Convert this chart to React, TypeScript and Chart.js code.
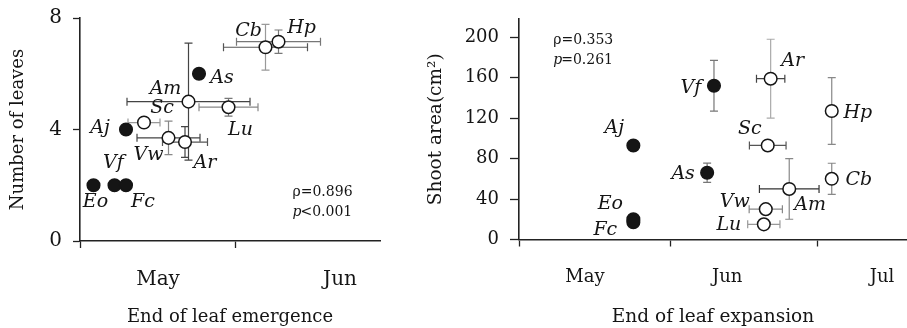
import React, { useEffect, useRef } from 'react';
import { Chart, registerables } from 'chart.js';

Chart.register(...registerables);

// ---------------- shared ----------------
const monthNames = ['May', 'Jun', 'Jul'];
const monthStartDays = [121, 152, 182]; // day of year: May 1, Jun 1, Jul 1

// ---------------- left panel: end of leaf emergence vs number of leaves ----------------
const leftSpecies = ['Eo', 'Vf', 'Fc', 'Aj', 'Sc', 'Vw', 'Ar', 'Am', 'As', 'Lu', 'Cb', 'Hp'];
const leftEmergenceDay = [123.7, 127.9, 130.2, 130.2, 133.8, 138.7, 142.0, 142.7, 144.8, 150.7, 158.1, 160.7];
const leftLeafCount = [2, 2, 2, 4, 4.25, 3.7, 3.55, 5, 6, 4.8, 6.95, 7.15];
const leftDayError = [0, 0, 0, 0, 3.2, 6.3, 4.5, 12.3, 0, 5.9, 8.4, 8.4];
const leftLeafError = [0, 0, 0, 0, 0, 0.6, 0.55, 2.1, 0, 0.32, 0.82, 0.42];
const leftFilled = [true, true, true, true, false, false, false, false, true, false, false, false];
const leftYTicks = [0, 4, 8];
const leftMonthLabelDays = [136.6, 173];
const leftRho = 'ρ=0.896';
const leftP = '<0.001';

// ---------------- right panel: end of leaf expansion vs shoot area ----------------
const rightSpecies = ['Aj', 'Eo', 'Fc', 'Vf', 'As', 'Ar', 'Hp', 'Sc', 'Cb', 'Am', 'Vw', 'Lu'];
const rightExpansionDay = [144.4, 144.4, 144.4, 160.9, 159.5, 172.5, 185.0, 171.9, 185.0, 176.3, 171.5, 171.1];
const rightShootArea = [93, 20, 17, 152, 66, 159, 127, 93, 60, 50, 30, 15];
const rightDayError = [0, 0, 0, 0, 0, 2.9, 0, 3.75, 0, 6.1, 3.4, 3.3];
const rightAreaError = [0, 0, 0, 25, 9.5, 39, 33, 0, 15.4, 30, 0, 0];
const rightFilled = [true, true, true, true, true, false, false, false, false, false, false, false];
const rightYTicks = [0, 40, 80, 120, 160, 200];
const rightMonthLabelDays = [134.5, 163.6, 195.3];
const rightRho = 'ρ=0.353';
const rightP = '=0.261';

// ---------------- styles / layout ----------------
const SERIF = "'DejaVu Serif', serif";
const INK = '#151515';

const leftLabelDx = [2, -1, 17, -26, 18, -20, 20, -23, 23, 12, -17, 23];
const leftLabelDy = [16, -23, 16, -2, -15, 16, 20, -14, 3, 22, -17, -15];
const leftXErrColor = ['', '', '', '', '#999', '#444', '#555', '#444', '', '#888', '#555', '#777'];
const leftYErrColor = ['', '', '', '', '', '#888', '#444', '#444', '', '#777', '#999', '#777'];

const rightLabelDx = [-19, -23, -28, -23, -24, 22, 26, -18, 27, 21, -31, -35];
const rightLabelDy = [-18, -16, 7, 1, 0, -19, 1, -17, 0, 15, -8, 0];
const rightXErrColor = ['', '', '', '', '', '#444', '', '#555', '', '#333', '#888', '#999'];
const rightYErrColor = ['', '', '', '#777', '#777', '#aaa', '#888', '', '#888', '#888', '', ''];

type Panel = {
  id: string;
  species: string[];
  xs: number[];
  ys: number[];
  xErr: number[];
  yErr: number[];
  filled: boolean[];
  xErrColor: string[];
  yErrColor: string[];
  labelDx: number[];
  labelDy: number[];
  xMin: number;
  xMax: number;
  yMax: number;
  yTicks: number[];
  monthLabelDays: number[];
  xTitle: string;
  yTitle: string;
  rho: string;
  pText: string;
  statX: number;
  statY1: number;
  statY2: number;
  padTop: number;
  padRight: number;
  yAxisWidth: number;
  xAxisHeight: number;
  tickFont: number;
  titleFont: number;
  yTitlePad: number;
  yTickLen: number;
  xTickPad: number;
};

const leftPanel: Panel = {
  id: 'left',
  species: leftSpecies,
  xs: leftEmergenceDay,
  ys: leftLeafCount,
  xErr: leftDayError,
  yErr: leftLeafError,
  filled: leftFilled,
  xErrColor: leftXErrColor,
  yErrColor: leftYErrColor,
  labelDx: leftLabelDx,
  labelDy: leftLabelDy,
  xMin: 121,
  xMax: 181,
  yMax: 8,
  yTicks: leftYTicks,
  monthLabelDays: leftMonthLabelDays,
  xTitle: 'End of leaf emergence',
  yTitle: 'Number of leaves',
  rho: leftRho,
  pText: leftP,
  statX: 163.5,
  statY1: 1.73,
  statY2: 1.04,
  padTop: 18,
  padRight: 20,
  yAxisWidth: 80,
  xAxisHeight: 87,
  tickFont: 20,
  titleFont: 18,
  yTitlePad: 8,
  yTickLen: 7,
  xTickPad: 20,
};

const rightPanel: Panel = {
  id: 'right',
  species: rightSpecies,
  xs: rightExpansionDay,
  ys: rightShootArea,
  xErr: rightDayError,
  yErr: rightAreaError,
  filled: rightFilled,
  xErrColor: rightXErrColor,
  yErrColor: rightYErrColor,
  labelDx: rightLabelDx,
  labelDy: rightLabelDy,
  xMin: 121,
  xMax: 200.4,
  yMax: 218,
  yTicks: rightYTicks,
  monthLabelDays: rightMonthLabelDays,
  xTitle: 'End of leaf expansion',
  yTitle: 'Shoot area(cm²)',
  rho: rightRho,
  pText: rightP,
  statX: 128,
  statY1: 197.3,
  statY2: 177.2,
  padTop: 19,
  padRight: 0,
  yAxisWidth: 109,
  xAxisHeight: 88.5,
  tickFont: 18,
  titleFont: 18.5,
  yTitlePad: 15.5,
  yTickLen: 9,
  xTickPad: 20,
};

function makeOverlay(p: Panel) {
  const cap = 4;
  return {
    id: 'overlay-' + p.id,
    beforeDatasetsDraw(chart: any) {
      const { ctx } = chart;
      const xs = chart.scales.x;
      const ys = chart.scales.y;
      ctx.save();
      ctx.lineWidth = 1.2;
      for (let i = 0; i < p.species.length; i++) {
        const px = xs.getPixelForValue(p.xs[i]);
        const py = ys.getPixelForValue(p.ys[i]);
        if (p.xErr[i] > 0) {
          const x0 = xs.getPixelForValue(p.xs[i] - p.xErr[i]);
          const x1 = xs.getPixelForValue(p.xs[i] + p.xErr[i]);
          ctx.strokeStyle = p.xErrColor[i] || '#666';
          ctx.beginPath();
          ctx.moveTo(x0, py);
          ctx.lineTo(x1, py);
          ctx.moveTo(x0, py - cap);
          ctx.lineTo(x0, py + cap);
          ctx.moveTo(x1, py - cap);
          ctx.lineTo(x1, py + cap);
          ctx.stroke();
        }
        if (p.yErr[i] > 0) {
          const y0 = ys.getPixelForValue(p.ys[i] - p.yErr[i]);
          const y1 = ys.getPixelForValue(p.ys[i] + p.yErr[i]);
          ctx.strokeStyle = p.yErrColor[i] || '#666';
          ctx.beginPath();
          ctx.moveTo(px, y0);
          ctx.lineTo(px, y1);
          ctx.moveTo(px - cap, y0);
          ctx.lineTo(px + cap, y0);
          ctx.moveTo(px - cap, y1);
          ctx.lineTo(px + cap, y1);
          ctx.stroke();
        }
      }
      ctx.restore();
    },
    afterDatasetsDraw(chart: any) {
      const { ctx } = chart;
      const xs = chart.scales.x;
      const ys = chart.scales.y;
      ctx.save();
      ctx.fillStyle = INK;
      ctx.textAlign = 'center';
      ctx.textBaseline = 'middle';
      ctx.font = `italic 19px ${SERIF}`;
      for (let i = 0; i < p.species.length; i++) {
        const px = xs.getPixelForValue(p.xs[i]);
        const py = ys.getPixelForValue(p.ys[i]);
        ctx.fillText(p.species[i], px + p.labelDx[i], py + p.labelDy[i] + 1);
      }
      // statistics
      ctx.textAlign = 'left';
      const sx = xs.getPixelForValue(p.statX);
      ctx.font = `14px ${SERIF}`;
      ctx.fillText(p.rho, sx, ys.getPixelForValue(p.statY1));
      const sy2 = ys.getPixelForValue(p.statY2);
      ctx.font = `italic 14px ${SERIF}`;
      ctx.fillText('p', sx, sy2);
      const pw = ctx.measureText('p').width;
      ctx.font = `14px ${SERIF}`;
      ctx.fillText(p.pText, sx + pw - 1, sy2);
      ctx.restore();
    },
  };
}

function zeroPad(s: any) {
  s.paddingLeft = 0;
  s.paddingRight = 0;
  s.paddingTop = 0;
  s.paddingBottom = 0;
}

function buildChart(canvas: HTMLCanvasElement, p: Panel) {
  const boundaries = monthStartDays.filter((d) => d >= p.xMin && d <= p.xMax);
  const isLabelTick = (v: number) => p.monthLabelDays.indexOf(v) >= 0;
  return new Chart(canvas, {
    type: 'scatter',
    data: {
      datasets: [
        {
          data: p.xs.map((x, i) => ({ x, y: p.ys[i] })),
          pointRadius: 6.3,
          pointBackgroundColor: p.filled.map((f) => (f ? INK : '#ffffff')),
          pointBorderColor: INK,
          pointBorderWidth: 1.5,
          showLine: false,
          clip: false,
        } as any,
      ],
    },
    options: {
      responsive: false,
      animation: false,
      events: [],
      layout: { autoPadding: false, padding: { top: p.padTop, right: p.padRight, bottom: 0, left: 0 } },
      plugins: { legend: { display: false }, tooltip: { enabled: false } },
      scales: {
        x: {
          type: 'linear',
          min: p.xMin,
          max: p.xMax,
          afterBuildTicks: (s: any) => {
            s.ticks = [...boundaries, ...p.monthLabelDays]
              .sort((a, b) => a - b)
              .map((v) => ({ value: v }));
          },
          afterFit: (s: any) => {
            s.height = p.xAxisHeight;
            zeroPad(s);
          },
          ticks: {
            autoSkip: false,
            maxRotation: 0,
            minRotation: 0,
            padding: p.xTickPad,
            color: INK,
            font: { family: SERIF, size: p.tickFont },
            callback: (v: any) => {
              const k = p.monthLabelDays.indexOf(Number(v));
              return k >= 0 ? monthNames[k] : '';
            },
          },
          grid: {
            drawOnChartArea: false,
            drawTicks: true,
            tickLength: 7,
            tickWidth: 1.3,
            tickColor: (c: any) => (c.tick && isLabelTick(c.tick.value) ? 'rgba(0,0,0,0)' : '#222'),
          },
          border: { display: true, color: '#222', width: 1.6 },
          title: {
            display: true,
            text: p.xTitle,
            color: INK,
            font: { family: SERIF, size: p.titleFont },
            padding: { top: 0, bottom: 0 },
          },
        },
        y: {
          type: 'linear',
          min: 0,
          max: p.yMax,
          afterBuildTicks: (s: any) => {
            s.ticks = p.yTicks.map((v) => ({ value: v }));
          },
          afterFit: (s: any) => {
            s.width = p.yAxisWidth;
            zeroPad(s);
          },
          ticks: {
            padding: 11,
            color: INK,
            font: { family: SERIF, size: p.tickFont },
          },
          grid: {
            drawOnChartArea: false,
            drawTicks: true,
            tickLength: p.yTickLen,
            tickWidth: 1.3,
            tickColor: '#222',
          },
          border: { display: true, color: '#222', width: 1.6 },
          title: {
            display: true,
            text: p.yTitle,
            color: INK,
            font: { family: SERIF, size: p.titleFont },
            padding: { top: p.yTitlePad, bottom: 0 },
          },
        },
      },
    } as any,
    plugins: [makeOverlay(p)],
  });
}

export default function App() {
  const leftRef = useRef<HTMLCanvasElement>(null);
  const rightRef = useRef<HTMLCanvasElement>(null);

  useEffect(() => {
    const a = buildChart(leftRef.current as HTMLCanvasElement, leftPanel);
    const b = buildChart(rightRef.current as HTMLCanvasElement, rightPanel);
    return () => {
      a.destroy();
      b.destroy();
    };
  }, []);

  return (
    <div style={{ position: 'fixed', left: 0, top: 0, width: 907, height: 328, background: '#fff' }}>
      <canvas
        ref={leftRef}
        width={400}
        height={328}
        style={{ position: 'absolute', left: 0, top: 0, width: 400, height: 328 }}
      />
      <canvas
        ref={rightRef}
        width={497}
        height={328}
        style={{ position: 'absolute', left: 410, top: 0, width: 497, height: 328 }}
      />
    </div>
  );
}
